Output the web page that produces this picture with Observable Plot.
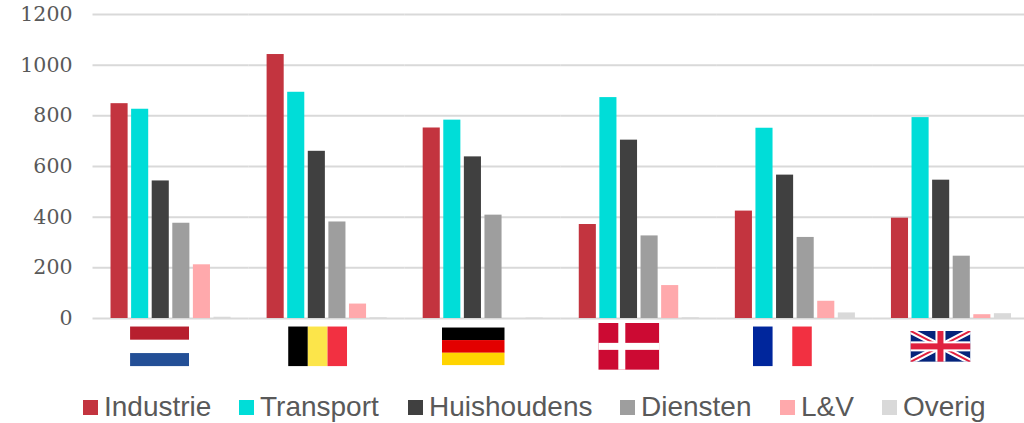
<!DOCTYPE html>
<html>
<head>
<meta charset="utf-8">
<script src="https://cdn.jsdelivr.net/npm/d3@7"></script>
<script src="https://cdn.jsdelivr.net/npm/@observablehq/plot@0.6"></script>
<style>
html,body{margin:0;padding:0;background:#fff;overflow:hidden}
#wrap{position:relative;width:1024px;height:423px}
#wrap svg{position:absolute;left:0;top:0;overflow:visible}
.li{position:absolute;top:390px;height:34px;line-height:34px;font-family:"Liberation Sans",Arial,sans-serif;font-size:28px;color:#595959;white-space:nowrap}
.sw{position:absolute;top:10px;left:0;width:15px;height:15px}
.li span{position:absolute;left:21px;top:0}
</style>
</head>
<body>
<div id="wrap"></div>
<script>
const countries = ["NL","BE","DE","DK","FR","UK"];
const series = ["Industrie","Transport","Huishoudens","Diensten","L&V","Overig"];
const colors = ["#C3343F","#00DDD8","#404040","#9E9E9E","#FFA9AC","#D9D9D9"];
const yTicks = [0,200,400,600,800,1000,1200];
const Industrie   = [848,1042,752,371,424,396];
const Transport   = [826,893,783,872,751,793];
const Huishoudens = [543,660,638,704,566,546];
const Diensten    = [376,381,408,326,320,246];
const LV          = [212,57,0,130,68,15];
const Overig      = [5,3,2,3,22,19];
const columns = [Industrie,Transport,Huishoudens,Diensten,LV,Overig];

const rows = countries.flatMap((c,i)=>series.map((s,j)=>({country:c,series:s,value:columns[j][i]})));

const svgUri = (w,h,body)=>"data:image/svg+xml;utf8,"+encodeURIComponent(
  `<svg xmlns="http://www.w3.org/2000/svg" width="${w}" height="${h}" viewBox="0 0 ${w} ${h}">${body}</svg>`);
const flags = [
  {country:"NL",w:59,h:40,dx:-11.5,body:`<rect width="59" height="13.3" fill="#B71F2E"/><rect y="26.7" width="59" height="13.3" fill="#234F96"/>`},
  {country:"BE",w:59,h:40,dx:-9.5,body:`<rect width="19.7" height="40" fill="#000"/><rect x="19.7" width="19.7" height="40" fill="#FCE54A"/><rect x="39.4" width="19.6" height="40" fill="#F23041"/>`},
  {country:"DE",w:63,h:38,dx:-10,body:`<rect width="63" height="12.7" fill="#000"/><rect y="12.7" width="63" height="12.7" fill="#E30000"/><rect y="25.4" width="63" height="12.6" fill="#FFD400"/>`},
  {country:"DK",w:61,h:47,dx:-10.5,body:`<rect width="61" height="47" fill="#CC0A33"/><rect x="20" width="7" height="47" fill="#fff"/><rect y="20" width="61" height="7" fill="#fff"/>`},
  {country:"FR",w:59,h:40,dx:-13,body:`<rect width="19.7" height="40" fill="#00269C"/><rect x="39.4" width="19.6" height="40" fill="#F23041"/>`},
  {country:"UK",w:60,h:31,dx:-11,body:`<rect width="60" height="31" fill="#04247B"/><path d="M0 0L60 31M60 0L0 31" stroke="#fff" stroke-width="6"/><path d="M0 0L60 31M60 0L0 31" stroke="#E0213F" stroke-width="2"/><rect x="25" width="10" height="31" fill="#fff"/><rect y="10.5" width="60" height="10" fill="#fff"/><rect x="27" width="6" height="31" fill="#E0213F"/><rect y="12.5" width="60" height="6" fill="#E0213F"/>`}
];
const flagLevel = -110;

const plot = Plot.plot({
  width:1024,height:395,
  marginLeft:92.5,marginRight:-5,marginTop:14,marginBottom:77,
  style:{background:"transparent",overflow:"visible"},
  fx:{domain:countries,paddingInner:0,paddingOuter:0,round:false,axis:null,label:null},
  x:{domain:series,paddingInner:0.17,paddingOuter:0.875,round:false,axis:null,label:null},
  y:{domain:[0,1200],range:[318,14],axis:null,label:null},
  color:{domain:series,range:colors},
  marks:[
    Plot.ruleY(yTicks,{stroke:"#D9D9D9",strokeWidth:2,strokeOpacity:1}),
    Plot.barY(rows,{fx:"country",x:"series",y:"value",fill:"series"}),
    Plot.axisY({ticks:yTicks,tickSize:0,tickPadding:20.5,label:null,fontSize:20.5,
      fontFamily:"'DejaVu Serif',serif",fill:"#595959",tickFormat:d=>String(d)}),
    ...flags.map(f=>Plot.image([f],{fx:"country",y:()=>flagLevel,frameAnchor:"middle",
      src:d=>svgUri(d.w,d.h,d.body),width:f.w,height:f.h,dx:f.dx}))
  ]
});
const wrap=document.getElementById("wrap");
wrap.appendChild(plot);
const legendLeft=[83,239,408,620,780,882];
series.forEach((s,i)=>{
  const it=document.createElement("div");it.className="li";it.style.left=legendLeft[i]+"px";
  const sw=document.createElement("div");sw.className="sw";sw.style.background=colors[i];
  const t=document.createElement("span");t.textContent=s;
  it.append(sw,t);wrap.appendChild(it);
});
</script>
</body>
</html>
